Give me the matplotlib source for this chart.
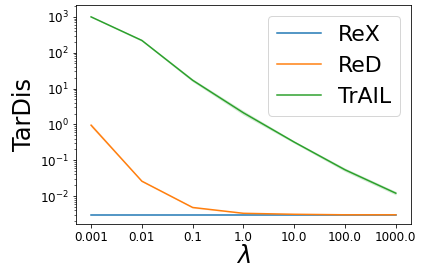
import matplotlib
matplotlib.use("Agg")
import matplotlib.pyplot as plt
import numpy as np

lambdas = ["0.001", "0.01", "0.1", "1.0", "10.0", "100.0", "1000.0"]

rex = [0.003, 0.003, 0.003, 0.003, 0.003, 0.003, 0.003]
red = [0.95, 0.026, 0.0048, 0.0033, 0.0031, 0.003, 0.003]
trail = [1000, 220, 17, 2.1, 0.32, 0.054, 0.012]

# rough spread of the shaded bands (multiplicative)
red_band = [1.12, 1.05, 1.05, 1.02, 1.01, 1.01, 1.01]
trail_band = [1.04, 1.06, 1.10, 1.15, 1.08, 1.12, 1.12]

fig = plt.figure(figsize=(426 / 72, 280 / 72), dpi=72)
ax = fig.add_axes([0.178, 0.2, 0.787, 0.782])

ax.plot(lambdas, rex, color="tab:blue", lw=1.5, label="ReX")
ax.plot(lambdas, red, color="tab:orange", lw=1.5, label="ReD")
ax.fill_between(lambdas, np.array(red) / np.array(red_band), np.array(red) * np.array(red_band),
                color="tab:orange", alpha=0.2, lw=0)
ax.plot(lambdas, trail, color="tab:green", lw=1.5, label="TrAIL")
ax.fill_between(lambdas, np.array(trail) / np.array(trail_band), np.array(trail) * np.array(trail_band),
                color="tab:green", alpha=0.2, lw=0)

ax.set_yscale("log")
ax.set_ylim(10 ** -2.78, 10 ** 3.33)
ax.tick_params(labelsize=12)
ax.set_xlabel(r"$\lambda$", fontsize=24, labelpad=0)
ax.set_ylabel("TarDis", fontsize=24)
ax.legend(fontsize=22, loc="upper right")

fig.savefig("out.png", dpi=72)
